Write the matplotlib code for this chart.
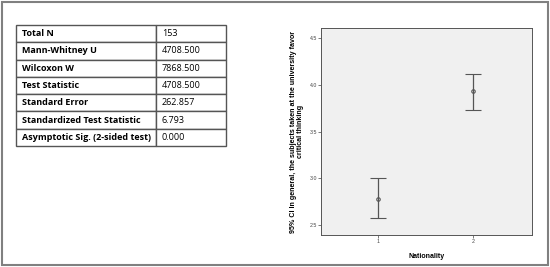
import matplotlib.pyplot as plt
from matplotlib.patches import Rectangle

# tabla de la prueba
row_labels = ["Total N", "Mann-Whitney U", "Wilcoxon W", "Test Statistic",
              "Standard Error", "Standardized Test Statistic",
              "Asymptotic Sig. (2-sided test)"]
row_values = ["153", "4708.500", "7868.500", "4708.500", "262.857", "6.793", "0.000"]

# intervalos de confianza por nacionalidad
groups = [1, 2]
means = [2.78, 3.93]
ci_low = [2.57, 3.73]
ci_high = [3.00, 4.12]

W, H = 550, 267
fig = plt.figure(figsize=(5.5, 2.67), dpi=100)
fig.patches.append(Rectangle((2 / W, 2 / H), 546 / W, 263 / H, transform=fig.transFigure,
                             fill=False, edgecolor="#808080", linewidth=1.5))

# --- tabla ---
tax = fig.add_axes([16 / W, 1 - 146 / H, 210 / W, 121 / H])
tax.axis("off")
tbl = tax.table(cellText=[[a, b] for a, b in zip(row_labels, row_values)],
                colWidths=[0.667, 0.333], cellLoc="left", bbox=[0, 0, 1, 1])
tbl.auto_set_font_size(False)
for (r, c), cell in tbl.get_celld().items():
    cell.set_edgecolor("#555555")
    cell.set_linewidth(1.0)
    cell.PAD = 0.04 if c == 0 else 0.08
    cell.get_text().set_fontsize(6.5)
    cell.get_text().set_fontfamily("Open Sans")
    if c == 0:
        cell.get_text().set_fontweight("bold")

# --- grafico de barras de error ---
plt.rcParams["font.family"] = ["Liberation Sans", "DejaVu Sans"]
ax = fig.add_axes([321 / W, 1 - 235 / H, 211 / W, 207 / H])
ax.set_facecolor("#f0f0f0")
yerr = [[m - l for m, l in zip(means, ci_low)], [h - m for m, h in zip(means, ci_high)]]
ax.errorbar(groups, means, yerr=yerr, fmt="o", color="#555555", mfc="none", ms=2.5,
            mew=0.8, elinewidth=0.9, capsize=6, capthick=0.9)
ax.set_xlim(0.4, 2.62)
ax.set_ylim(2.39, 4.61)
ax.set_xticks(groups)
ax.set_yticks([2.5, 3.0, 3.5, 4.0, 4.5])
ax.tick_params(labelsize=3.8, length=2, width=0.5, colors="#444444", pad=1)
for s in ax.spines.values():
    s.set_color("#555555")
    s.set_linewidth(0.7)
ax.set_xlabel("Nationality", fontsize=5, fontweight="bold", labelpad=6)
ax.set_ylabel("95% CI In general, the subjects taken at the university favor\ncritical thinking",
              fontsize=5.1, fontweight="bold", labelpad=4, linespacing=0.95)

fig.savefig("out.png", dpi=100)
